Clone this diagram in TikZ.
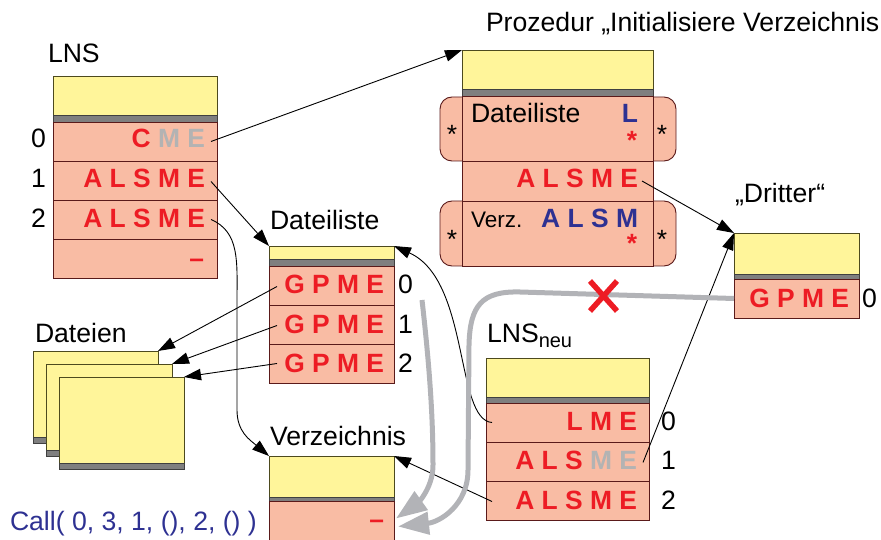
\documentclass[tikz,border=0pt]{standalone}
\usepackage{fontspec}
\setmainfont{Liberation Sans}
\usetikzlibrary{arrows.meta,calc}
\definecolor{yelfill}{HTML}{FFF59A}
\definecolor{yelline}{HTML}{4D4A1E}
\definecolor{bandfill}{HTML}{7F7F7F}
\definecolor{salmon}{HTML}{F9BCA4}
\definecolor{rowline}{HTML}{5A1A1A}
\definecolor{txtred}{HTML}{ED1C24}
\definecolor{txtgray}{HTML}{B3B3B3}
\definecolor{txtblue}{HTML}{2E3192}
\definecolor{gline}{HTML}{B2B3B7}
\begin{document}
\begin{tikzpicture}[x=1pt,y=-1pt,
  box/.style={inner sep=0pt, outer sep=0pt, anchor=north west, line width=0.9pt},
  yel/.style={box, draw=yelline, fill=yelfill},
  band/.style={box, draw=black!75, fill=bandfill},
  rowc/.style={box, draw=rowline, fill=salmon},
  lab/.style={inner sep=0pt, outer sep=0pt, font=\fontsize{26.6}{30}\selectfont, anchor=base west},
  lt/.style={inner sep=0pt, outer sep=0pt, font=\bfseries\fontsize{26.4}{30}\selectfont, text=txtred, anchor=base east},
  star/.style={inner sep=0pt, outer sep=0pt, font=\fontsize{26.4}{30}\selectfont, anchor=base},
  arr/.style={line width=0.9pt, -{Triangle[length=17pt,width=11.5pt]}},
  garr/.style={draw=gline, line width=5pt, -{Triangle[length=31pt,width=22pt]}}
]
\useasboundingbox (0,0) rectangle (881,540);

% ---------- LNS ----------
\node[lab] (lnsL) at (48,63) {LNS};
\node[yel, minimum width=164pt, minimum height=39pt] (lnsY) at (53,76) {};
\node[band, minimum width=164pt, minimum height=7pt] (lnsB) at (53,115) {};
\node[rowc, minimum width=164pt, minimum height=39pt] (lns0) at (53,122) {};
\node[rowc, minimum width=164pt, minimum height=39pt] (lns1) at (53,161) {};
\node[rowc, minimum width=164pt, minimum height=39pt] (lns2) at (53,200) {};
\node[rowc, minimum width=164pt, minimum height=39pt] (lns3) at (53,239) {};
\node[lt] (lnst0) at (205,148) {C \textcolor{txtgray}{M E}};
\node[lt] (lnst1) at (205,188) {A L S M E};
\node[lt] (lnst2) at (205,228) {A L S M E};
\node[lt] (lnst3) at (204,267) {–};
\node[lab] (lnsn0) at (31,148) {0};
\node[lab] (lnsn1) at (31,188) {1};
\node[lab] (lnsn2) at (31,228) {2};

% ---------- Prozedur ----------
\node[lab] (prozL) at (486,32) {Prozedur „Initialisiere Verzeichnis};
\node[rowc, rounded corners=12pt, minimum width=236pt, minimum height=64pt] (tabA) at (440,97) {};
\node[rowc, rounded corners=12pt, minimum width=236pt, minimum height=65pt] (tabC) at (440,201) {};
\node[yel, minimum width=191pt, minimum height=39pt] (prozY) at (462,50) {};
\node[band, minimum width=191pt, minimum height=7pt] (prozB) at (462,89) {};
\node[rowc, minimum width=191pt, minimum height=65pt] (pA) at (462,96) {};
\node[rowc, minimum width=191pt, minimum height=40pt] (pB) at (462,161) {};
\node[rowc, minimum width=191pt, minimum height=65pt] (pC) at (462,201) {};
\node[lab] (pAt) at (471,123) {Dateiliste};
\node[lt, text=txtblue] (pAL) at (638,123) {L};
\node[star, text=txtred, font=\bfseries\fontsize{26.4}{30}\selectfont] (pAs) at (632,150) {*};
\node[star] (tAl) at (452,144) {*};
\node[star] (tAr) at (662,144) {*};
\node[lt] (pBt) at (638,188) {A L S M E};
\node[lab, font=\fontsize{22.5}{26}\selectfont] (pCt) at (471,228) {Verz.};
\node[lt, text=txtblue] (pCL) at (638,228) {A L S M};
\node[star, text=txtred, font=\bfseries\fontsize{26.4}{30}\selectfont] (pCs) at (632,252) {*};
\node[star] (tCl) at (452,248) {*};
\node[star] (tCr) at (662,248) {*};

% ---------- Dritter ----------
\node[lab] (drL) at (735,203) {„Dritter“};
\node[yel, minimum width=125pt, minimum height=41pt] (drY) at (734,233) {};
\node[band, minimum width=125pt, minimum height=5pt] (drB) at (734,274) {};
\node[rowc, minimum width=125pt, minimum height=39pt] (dr0) at (734,279) {};
\node[lt] (drt0) at (849,307) {G P M E};
\node[lab] (drn0) at (862,307) {0};

% ---------- Dateiliste ----------
\node[lab] (dlL) at (270,230) {Dateiliste};
\node[yel, minimum width=125pt, minimum height=13pt] (dlY) at (269,246) {};
\node[band, minimum width=125pt, minimum height=7pt] (dlB) at (269,259) {};
\node[rowc, minimum width=125pt, minimum height=39pt] (dl0) at (269,266) {};
\node[rowc, minimum width=125pt, minimum height=39pt] (dl1) at (269,305) {};
\node[rowc, minimum width=125pt, minimum height=39pt] (dl2) at (269,344) {};
\node[lt] (dlt0) at (384,294) {G P M E};
\node[lt] (dlt1) at (384,333) {G P M E};
\node[lt] (dlt2) at (384,372) {G P M E};
\node[lab] (dln0) at (398,294) {0};
\node[lab] (dln1) at (398,333) {1};
\node[lab] (dln2) at (398,372) {2};

% ---------- Dateien ----------
\node[lab] (fL) at (35,342) {Dateien};
\node[yel, minimum width=125pt, minimum height=86pt] (f1Y) at (33,351) {};
\node[band, minimum width=125pt, minimum height=6pt] (f1B) at (33,437) {};
\node[yel, minimum width=126pt, minimum height=86pt] (f2Y) at (46,364) {};
\node[band, minimum width=126pt, minimum height=6pt] (f2B) at (46,450) {};
\node[yel, minimum width=125pt, minimum height=86pt] (f3Y) at (59,377) {};
\node[band, minimum width=125pt, minimum height=6pt] (f3B) at (59,463) {};

% ---------- LNS neu ----------
\node[lab] (lnL) at (487,342) {LNS\raisebox{-5pt}{\fontsize{20}{22}\selectfont neu}};
\node[yel, minimum width=163pt, minimum height=39pt] (lnY) at (486,358) {};
\node[band, minimum width=163pt, minimum height=6pt] (lnB) at (486,397) {};
\node[rowc, minimum width=163pt, minimum height=39pt] (ln0) at (486,403) {};
\node[rowc, minimum width=163pt, minimum height=39pt] (ln1) at (486,442) {};
\node[rowc, minimum width=163pt, minimum height=39pt] (ln2) at (486,481) {};
\node[lt] (lnt0) at (637,430) {L M E};
\node[lt] (lnt1) at (637,469) {A L S \textcolor{txtgray}{M E}};
\node[lt] (lnt2) at (637,509) {A L S M E};
\node[lab] (lnn0) at (661,430) {0};
\node[lab] (lnn1) at (661,469) {1};
\node[lab] (lnn2) at (661,509) {2};

% ---------- Verzeichnis ----------
\node[lab] (vzL) at (270,445) {Verzeichnis};
\node[yel, minimum width=125pt, minimum height=41pt] (vzY) at (269,456) {};
\node[band, minimum width=125pt, minimum height=4pt] (vzB) at (269,497) {};
\node[rowc, minimum width=125pt, minimum height=39pt] (vz0) at (269,501) {};
\node[lt] (vzt0) at (384,528) {–};

\node[lab, text=txtblue] (call) at (10,530) {Call( 0, 3, 1, (), 2, () )};

% ---------- black connectors ----------
\draw[arr] ($(lns0.east)+(-6,0)$) -- (prozY.north west);
\draw[arr] ($(lns1.east)+(-6,1)$) -- (dlY.north west);
\draw[arr] ($(lns2.east)+(-6,0)$) .. controls (240,232) and (237,262) .. (237,300)
  -- (237,410) .. controls (237,432) and (250,440) .. (vzY.north west);
\draw[arr] ($(dl0.west)+(8,1)$) -- (f1Y.north east);
\draw[arr] ($(dl1.west)+(8,1)$) -- (f2Y.north east);
\draw[arr] ($(dl2.west)+(8,0)$) -- (f3Y.north east);
\draw[arr] ($(pB.east)+(-11,0)$) -- (drY.north west);
\draw[arr] ($(ln1.east)+(-6,1)$) -- (drY.north west);
\draw[arr] ($(ln0.west)+(6,0)$) .. controls (455,420) and (470,280) .. (dlY.north east);
\draw[arr] ($(ln2.west)+(6,1)$) -- (vzY.north east);

% ---------- gray connectors ----------
\coordinate (g1s) at (422,300);
\draw[garr] (g1s) .. controls (430,370) and (433,420) .. (433,465)
  .. controls (433,490) and (415,505) .. ($(vz0.east)+(2,-2)$);
\draw[garr] (dr0.west) -- (520,292) .. controls (482,291) and (470,305) .. (469,345)
  -- (468,470) .. controls (468,505) and (440,522) .. ($(vz0.east)+(4,6)$);

% ---------- red cross ----------
\draw[txtred, line width=5.5pt] (590,281) -- (617,311) (617,281) -- (590,311);
\end{tikzpicture}
\end{document}
